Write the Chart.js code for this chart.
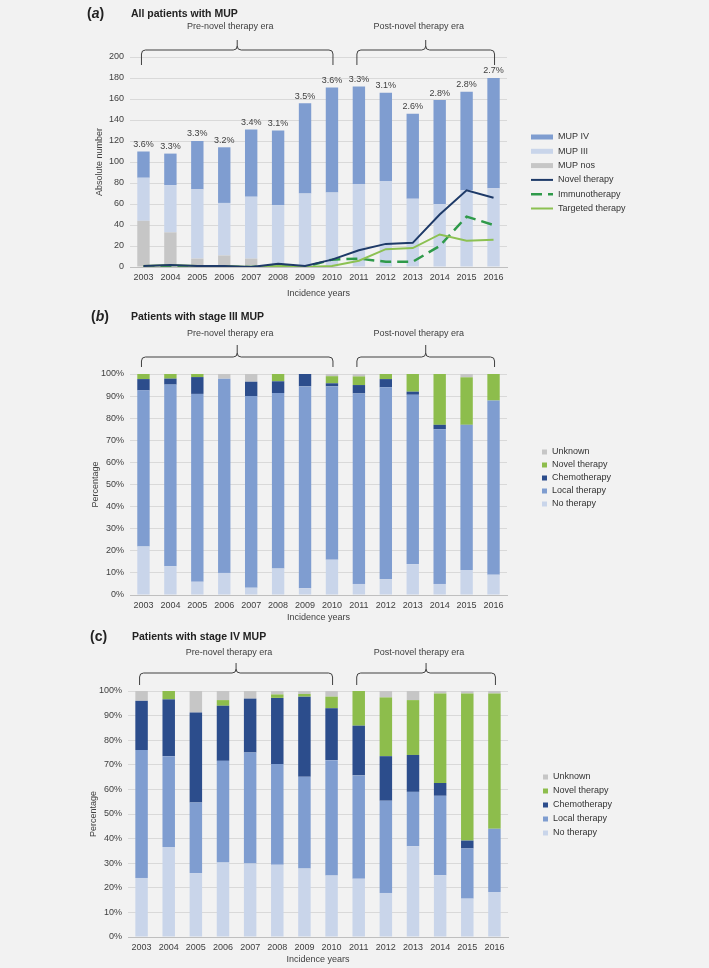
<!DOCTYPE html>
<html>
<head>
<meta charset="utf-8">
<script src="https://cdn.jsdelivr.net/npm/chart.js@4.4.0/dist/chart.umd.min.js"></script>
<style>
  html, body { margin: 0; padding: 0; background: #f2f2f2; }
  #wrap { position: relative; width: 709px; height: 968px; overflow: hidden; }
  .box { position: absolute; left: 0; width: 709px; }
</style>
</head>
<body>
<div id="wrap">
  <div class="box" style="top:0;height:300px"><canvas id="chartA"></canvas></div>
  <div class="box" style="top:300px;height:325px"><canvas id="chartB"></canvas></div>
  <div class="box" style="top:625px;height:343px"><canvas id="chartC"></canvas></div>
</div>
<script>
// --- data ---
const years = ['2003','2004','2005','2006','2007','2008','2009','2010','2011','2012','2013','2014','2015','2016'];
const eraLabels = ['Pre-novel therapy era', 'Post-novel therapy era'];
const eraSpans = [[0, 7], [8, 13]];

// (a) absolute numbers
const mupNos  = [44, 33, 8, 11, 8, 1, 0, 0, 0, 0, 0, 0, 0, 0];
const mupIII  = [41, 45, 66, 50, 59, 58, 70, 71, 79, 82, 65, 60, 73, 75];
const mupIV   = [25, 30, 46, 53, 64, 71, 86, 100, 93, 84, 81, 99, 94, 105];
const shareLabels = ['3.6%','3.3%','3.3%','3.2%','3.4%','3.1%','3.5%','3.6%','3.3%','3.1%','2.6%','2.8%','2.8%','2.7%'];
const novelLine    = [1, 2, 1, 1, 0, 3, 1, 7, 16, 22, 23, 50, 73, 66];
const immunoLine   = [0, 1, 0, 0, 0, 1, 0, 7, 8, 5, 5, 20, 48, 40];
const targetedLine = [1, 2, 1, 1, 0, 1, 0, 1, 6, 17, 18, 31, 25, 26];

// (b) stage III, percentages
const b_none    = [22, 13, 6, 10, 3.3, 12, 3, 16, 5, 7.2, 14, 5, 11.3, 9.2];
const b_local   = [70.6, 82.2, 85, 87.9, 86.7, 79.4, 91.4, 78.4, 86.2, 86.8, 76.6, 70, 65.7, 78.8];
const b_chemo   = [5.1, 2.7, 7.6, 0, 6.5, 5.3, 5.6, 1.4, 3.8, 3.7, 1.4, 2, 0, 0];
const b_novel   = [2.3, 2.1, 1.4, 0, 0, 3.3, 0, 3.2, 3.9, 2.3, 8, 23, 21.5, 12];
const b_unknown = [0, 0, 0, 2.1, 3.5, 0, 0, 1, 1.1, 0, 0, 0, 1.5, 0];

// (c) stage IV, percentages
const c_none    = [24, 36.6, 26, 30.3, 29.9, 29.4, 27.8, 25, 23.7, 17.9, 36.9, 25.1, 15.6, 18.3];
const c_local   = [52, 36.9, 28.7, 41.3, 45.1, 40.9, 37.3, 46.9, 42, 37.5, 22.1, 32.3, 20.4, 25.7];
const c_chemo   = [20, 23.1, 36.6, 22.4, 21.9, 26.9, 32.6, 21.1, 20.2, 18.1, 15, 5.2, 3.2, 0];
const c_novel   = [0, 3.4, 0, 2.3, 0, 1.4, 1.1, 4.7, 14.1, 23.9, 22.3, 36.4, 59.8, 55];
const c_unknown = [4, 0, 8.7, 3.7, 3.1, 1.4, 1.2, 2.3, 0, 2.6, 3.7, 1, 1, 1];

// colours
const COL = {
  mid: '#7f9dd0', pale: '#c9d5ea', gray: '#c6c6c6', chemo: '#2c4d8c', novel: '#8dbd4c',
  navy: '#1e3a68', dkgreen: '#2f9a4a', ltgreen: '#8cc152', text: '#404040', grid: '#d9d9d9'
};
const FAM = '"Liberation Sans", Arial, Helvetica, sans-serif';
const small = { family: FAM, size: 9 };

// braces, headings, legend and bar-top labels
function brace(ctx, x0, x1, lineY, endY, tipY) {
  const r = 4, m = (x0 + x1) / 2;
  ctx.beginPath();
  ctx.moveTo(x0, endY);
  ctx.lineTo(x0, lineY + r);
  ctx.quadraticCurveTo(x0, lineY, x0 + r, lineY);
  ctx.lineTo(m - r, lineY);
  ctx.quadraticCurveTo(m, lineY, m, lineY - r);
  ctx.lineTo(m, tipY);
  ctx.moveTo(m, lineY - r);
  ctx.quadraticCurveTo(m, lineY, m + r, lineY);
  ctx.lineTo(x1 - r, lineY);
  ctx.quadraticCurveTo(x1, lineY, x1, lineY + r);
  ctx.lineTo(x1, endY);
  ctx.stroke();
}

const decor = {
  id: 'decor',
  afterDraw(chart, args, o) {
    const { ctx, chartArea: ca, scales: { x, y } } = chart;
    ctx.save();
    ctx.fillStyle = '#222';
    ctx.textBaseline = 'middle';
    ctx.textAlign = 'left';

    // heading
    let tx = o.tagX;
    ctx.font = 'bold 14px ' + FAM;
    ctx.fillText('(', tx, o.headY); tx += ctx.measureText('(').width;
    ctx.font = (o.italic ? 'italic ' : '') + 'bold 14px ' + FAM;
    ctx.fillText(o.tag, tx, o.headY); tx += ctx.measureText(o.tag).width;
    ctx.font = 'bold 14px ' + FAM;
    ctx.fillText(')', tx, o.headY);
    ctx.font = 'bold 10.5px ' + FAM;
    ctx.fillText(o.title, o.titleX, o.headY);

    // era braces
    ctx.strokeStyle = '#404040';
    ctx.lineWidth = 1;
    ctx.font = '9px ' + FAM;
    ctx.fillStyle = COL.text;
    ctx.textAlign = 'center';
    eraSpans.forEach((sp, i) => {
      const x0 = x.getPixelForValue(sp[0]) - 2;
      const x1 = x.getPixelForValue(sp[1]) + 1;
      brace(ctx, x0, x1, ca.top + o.braceLine, ca.top + o.braceEnd, ca.top + o.braceTip);
      ctx.fillText(eraLabels[i], (x0 + x1) / 2 - 7, ca.top + o.braceText);
    });

    // totals above bars
    if (o.topLabels) {
      const bars = chart.data.datasets.filter(d => d.type === 'bar');
      o.topLabels.forEach((t, i) => {
        const tot = bars.reduce((s, d) => s + d.data[i], 0);
        ctx.fillText(t, x.getPixelForValue(i), y.getPixelForValue(tot) - 7);
      });
    }

    // legend
    const L = o.legend;
    ctx.textAlign = 'left';
    L.order.forEach((di, k) => {
      const ds = chart.data.datasets[di];
      const ly = L.y + k * L.step;
      if (L.kind === 'wide') {
        if (ds.type === 'line') {
          ctx.strokeStyle = ds.borderColor;
          ctx.lineWidth = ds.borderWidth;
          ctx.setLineDash(ds.borderDash || []);
          ctx.beginPath();
          ctx.moveTo(L.x, ly);
          ctx.lineTo(L.x + 22, ly);
          ctx.stroke();
          ctx.setLineDash([]);
        } else {
          ctx.fillStyle = ds.backgroundColor;
          ctx.fillRect(L.x, ly - 2.5, 22, 5);
        }
        ctx.fillStyle = '#333';
        ctx.fillText(ds.label, L.x + 27, ly);
      } else {
        ctx.fillStyle = ds.backgroundColor;
        ctx.fillRect(L.x, ly - 2.5, 5, 5);
        ctx.fillStyle = '#333';
        ctx.fillText(ds.label, L.x + 10, ly);
      }
    });
    ctx.restore();
  }
};

function xAxis(h, pb) {
  return {
    stacked: true,
    grid: { display: false, drawTicks: false },
    border: { display: true, color: '#bfbfbf' },
    ticks: { font: small, color: COL.text, padding: 5, maxRotation: 0, autoSkip: false },
    title: { display: true, text: 'Incidence years', font: small, color: COL.text, padding: { top: 0, bottom: pb } },
    afterFit(s) { s.height = h; }
  };
}
function yAxis(w, max, step, title, pct) {
  return {
    stacked: true, min: 0, max: max,
    grid: { color: COL.grid, drawTicks: false },
    border: { display: false },
    ticks: { stepSize: step, font: small, color: COL.text, padding: 6,
             callback: v => pct ? v + '%' : v },
    title: { display: true, text: title, font: small, color: COL.text, padding: 0 },
    afterFit(s) { s.width = w; }
  };
}
function bar(label, data, color) {
  return { type: 'bar', label, data, backgroundColor: color, stack: 's', order: 10,
           barPercentage: 0.46, categoryPercentage: 1 };
}
function line(label, data, color, width, order, dash) {
  return { type: 'line', label, data, borderColor: color, backgroundColor: color, borderWidth: width,
           borderDash: dash, stack: 'l' + order, order, pointRadius: 0, tension: 0, fill: false };
}
const common = {
  responsive: true, maintainAspectRatio: false, animation: false,
  events: []
};

// (a)
new Chart(document.getElementById('chartA'), {
  type: 'bar',
  data: {
    labels: years,
    datasets: [
      bar('MUP nos', mupNos, COL.gray),
      bar('MUP III', mupIII, COL.pale),
      bar('MUP IV', mupIV, COL.mid),
      line('Novel therapy', novelLine, COL.navy, 2, 1),
      line('Immunotherapy', immunoLine, COL.dkgreen, 2.5, 3, [11, 6]),
      line('Targeted therapy', targetedLine, COL.ltgreen, 2, 2)
    ]
  },
  options: Object.assign({}, common, {
    layout: { padding: { left: 94, right: 202, top: 57, bottom: 0 } },
    scales: { x: xAxis(33, 1), y: yAxis(36, 200, 20, 'Absolute number', false) },
    plugins: {
      legend: { display: false }, tooltip: { enabled: false },
      decor: {
        tag: 'a', italic: true, title: 'All patients with MUP', tagX: 87, titleX: 131, headY: 14,
        braceText: -30, braceTip: -17, braceLine: -7, braceEnd: 8,
        topLabels: shareLabels,
        legend: { kind: 'wide', x: 531, y: 137, step: 14.3, order: [2, 1, 0, 3, 4, 5] }
      }
    }
  }),
  plugins: [decor]
});

// (b)
new Chart(document.getElementById('chartB'), {
  type: 'bar',
  data: {
    labels: years,
    datasets: [
      bar('No therapy', b_none, COL.pale),
      bar('Local therapy', b_local, COL.mid),
      bar('Chemotherapy', b_chemo, COL.chemo),
      bar('Novel therapy', b_novel, COL.novel),
      bar('Unknown', b_unknown, COL.gray)
    ]
  },
  options: Object.assign({}, common, {
    layout: { padding: { left: 90, right: 202, top: 74, bottom: 0 } },
    scales: { x: xAxis(30, 2), y: yAxis(40, 100, 10, 'Percentage', true) },
    plugins: {
      legend: { display: false }, tooltip: { enabled: false },
      decor: {
        tag: 'b', italic: true, title: 'Patients with stage III MUP', tagX: 91, titleX: 131, headY: 17,
        braceText: -40, braceTip: -29, braceLine: -17, braceEnd: -7,
        legend: { kind: 'square', x: 542, y: 152, step: 13, order: [4, 3, 2, 1, 0] }
      }
    }
  }),
  plugins: [decor]
});

// (c)
new Chart(document.getElementById('chartC'), {
  type: 'bar',
  data: {
    labels: years,
    datasets: [
      bar('No therapy', c_none, COL.pale),
      bar('Local therapy', c_local, COL.mid),
      bar('Chemotherapy', c_chemo, COL.chemo),
      bar('Novel therapy', c_novel, COL.novel),
      bar('Unknown', c_unknown, COL.gray)
    ]
  },
  options: Object.assign({}, common, {
    layout: { padding: { left: 88, right: 201, top: 66, bottom: 0 } },
    scales: { x: xAxis(31, 3), y: yAxis(40, 100, 10, 'Percentage', true) },
    plugins: {
      legend: { display: false }, tooltip: { enabled: false },
      decor: {
        tag: 'c', italic: false, title: 'Patients with stage IV MUP', tagX: 90, titleX: 132, headY: 12,
        braceText: -38, braceTip: -28, braceLine: -18, braceEnd: -6,
        legend: { kind: 'square', x: 543, y: 152, step: 14, order: [4, 3, 2, 1, 0] }
      }
    }
  }),
  plugins: [decor]
});
</script>
</body>
</html>
